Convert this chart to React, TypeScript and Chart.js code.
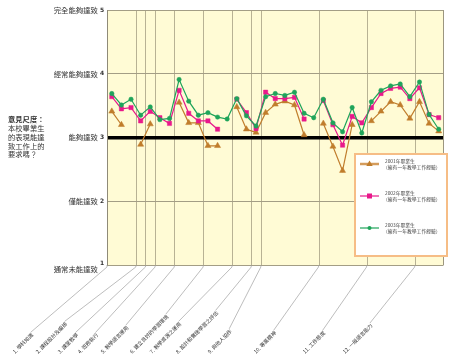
import React, { useEffect, useRef } from "react";
import { Chart, registerables } from "chart.js";
Chart.register(...registerables);

// item codes (group.item)
const itemCodes = [
  "1.1", "1.2", "1.3", "2.1", "3.1", "4.1", "4.2", "5.1", "5.2", "5.3",
  "6.1", "6.2", "6.3", "7.1", "7.2", "8.1", "9.1", "9.2", "9.3", "9.4",
  "9.5", "9.6", "10.1", "10.2", "10.3", "10.4", "10.5", "11.1", "11.2", "11.3",
  "11.4", "11.5", "12.1", "12.2", "12.3",
];

const groupLabels = [
  "1. 學科知識",
  "2. 課程設計及編排",
  "3. 課堂教學",
  "4. 班務執行",
  "5. 教學語言運用",
  "6. 建立良好的學習環境",
  "7. 教學資源之運用",
  "8. 設計和實施學習之評估",
  "9. 與他人協作",
  "10. 專業精神",
  "11. 工作態度",
  "12. 一般語言能力",
];

const yTickValues = [1, 2, 3, 4, 5];
const yTickTexts = ["通常未能達致", "僅能達致", "能夠達致", "經常能夠達致", "完全能夠達致"];

const axisTitleLines = ["意見尺度：", "本校畢業生", "的表現能達", "致工作上的", "要求嗎？"];

const seriesNames = ["2001年畢業生", "2002年畢業生", "2003年畢業生"];
const seriesNote = "（擁有一年教學工作經驗）";

const grad2001 = [
  3.41, 3.2, null, 2.89, 3.21, null, null, 3.55, 3.23, 3.23,
  2.87, 2.87, null, 3.48, 3.13, 3.08, 3.39, 3.52, 3.57, 3.51,
  3.04, null, 3.22, 2.86, 2.48, 3.2, null, 3.26, 3.41, 3.56,
  3.51, 3.3, 3.56, 3.22, 3.1,
];
const grad2002 = [
  3.64, 3.45, 3.47, 3.26, 3.41, 3.31, 3.22, 3.74, 3.38, 3.26,
  3.26, 3.13, null, 3.6, 3.39, 3.14, 3.71, 3.61, 3.61, 3.63,
  3.29, null, 3.58, 3.2, 2.88, 3.33, 3.23, 3.47, 3.69, 3.77,
  3.79, 3.61, 3.78, 3.36, 3.31,
];
const grad2003 = [
  3.69, 3.51, 3.6, 3.35, 3.48, 3.28, 3.3, 3.91, 3.57, 3.35,
  3.39, 3.32, 3.29, 3.61, 3.34, 3.18, 3.64, 3.69, 3.66, 3.71,
  3.38, 3.31, 3.6, 3.23, 3.09, 3.47, 3.07, 3.56, 3.74, 3.81,
  3.84, 3.64, 3.87, 3.36, 3.13,
];

const COLORS = ["#c07d2c", "#e8198b", "#1fa45a"];
const STYLES = ["triangle", "rect", "circle"];
const RADII = [3.5, 3, 2.2];
const CJK = '"Noto Sans CJK TC", "Noto Sans", sans-serif';

// layout: where each rotated group label begins (left end of its baseline)
const LABEL_START_X = [15, 38, 60, 80, 103, 132, 152, 178, 210, 256, 305, 345];

const groupOf = (code: string) => code.split(".")[0];

const customPlugin = {
  id: "custom",
  beforeDraw(chart: any) {
    const { ctx, chartArea: a, scales } = chart;
    const xs = scales.x;
    ctx.save();
    ctx.fillStyle = "#fffbd5";
    ctx.fillRect(a.left, a.top, a.right - a.left, a.bottom - a.top);
    // group boundary lines
    ctx.strokeStyle = "#b8b294";
    ctx.lineWidth = 1;
    for (let i = 1; i < itemCodes.length; i++) {
      if (groupOf(itemCodes[i]) !== groupOf(itemCodes[i - 1])) {
        const px = Math.round((xs.getPixelForValue(i - 1) + xs.getPixelForValue(i)) / 2) + 0.5;
        ctx.beginPath();
        ctx.moveTo(px, a.top);
        ctx.lineTo(px, a.bottom);
        ctx.stroke();
      }
    }
    ctx.restore();
  },
  afterDraw(chart: any) {
    const { ctx, chartArea: a, scales } = chart;
    const xs = scales.x;
    const ys = scales.y;
    ctx.save();
    // right frame
    ctx.strokeStyle = "#9c9680";
    ctx.lineWidth = 1;
    ctx.beginPath();
    ctx.moveTo(Math.round(a.right) - 0.5, a.top);
    ctx.lineTo(Math.round(a.right) - 0.5, a.bottom);
    ctx.stroke();

    // y tick labels
    ctx.fillStyle = "#333";
    ctx.textBaseline = "middle";
    yTickValues.forEach((v, i) => {
      const py = ys.getPixelForValue(v);
      ctx.font = `7.4px ${CJK}`;
      ctx.textAlign = "right";
      ctx.fillText(yTickTexts[i], a.left - 9, py + (v === 1 ? 4 : 0));
      ctx.font = `bold 6px "DejaVu Sans", sans-serif`;
      ctx.textAlign = "center";
      ctx.fillText(String(v), a.left - 5, py - (v === 1 ? 2 : 0));
    });

    // left axis title
    const p3 = ys.getPixelForValue(3);
    ctx.textAlign = "left";
    axisTitleLines.forEach((t, i) => {
      ctx.font = `${i === 0 ? "bold " : ""}7.3px ${CJK}`;
      ctx.fillText(t, 8, p3 - 18 + i * 8.8);
    });

    // x group leader lines and labels
    const bounds: number[] = [a.left];
    for (let i = 1; i < itemCodes.length; i++) {
      if (groupOf(itemCodes[i]) !== groupOf(itemCodes[i - 1])) {
        bounds.push((xs.getPixelForValue(i - 1) + xs.getPixelForValue(i)) / 2);
      }
    }
    const ang = Math.PI / 4;
    const baseY = 354;
    ctx.font = `5.2px ${CJK}`;
    groupLabels.forEach((lab, k) => {
      const b = bounds[k];
      const sx = LABEL_START_X[k];
      const w = ctx.measureText(lab).width;
      const ex = sx + w * Math.cos(ang);
      const ey = baseY - w * Math.sin(ang);
      // leader line
      ctx.strokeStyle = "#a0a0a0";
      ctx.lineWidth = 0.7;
      ctx.beginPath();
      ctx.moveTo(b, a.bottom);
      ctx.lineTo(b, a.bottom + 2);
      ctx.lineTo(ex - 3, ey - 3);
      ctx.stroke();
      ctx.save();
      ctx.translate(sx, baseY);
      ctx.rotate(-ang);
      ctx.fillStyle = "#333";
      ctx.textAlign = "left";
      ctx.textBaseline = "alphabetic";
      ctx.fillText(lab, 0, 0);
      ctx.restore();
    });

    // legend box
    const lx = 355, ly = 154, lw = 92, lh = 102;
    ctx.fillStyle = "#ffffff";
    ctx.fillRect(lx, ly, lw, lh);
    ctx.strokeStyle = "#f6bd86";
    ctx.lineWidth = 2;
    ctx.strokeRect(lx, ly, lw, lh);
    const entryY = [ly + 10, ly + 42, ly + 74];
    chart.data.datasets.forEach((ds: any, i: number) => {
      const cy = entryY[i];
      ctx.strokeStyle = i === 0 ? "#d49c5c" : ds.borderColor;
      ctx.lineWidth = i === 0 ? 2.5 : 1.2;
      ctx.beginPath();
      ctx.moveTo(lx + 5, cy);
      ctx.lineTo(lx + 24, cy);
      ctx.stroke();
      ctx.fillStyle = ds.borderColor;
      const mx = lx + 14.5;
      if (STYLES[i] === "triangle") {
        ctx.beginPath();
        ctx.moveTo(mx, cy - 3.5);
        ctx.lineTo(mx + 3.2, cy + 2);
        ctx.lineTo(mx - 3.2, cy + 2);
        ctx.closePath();
        ctx.fill();
      } else if (STYLES[i] === "rect") {
        ctx.fillRect(mx - 2.5, cy - 2.5, 5, 5);
      } else {
        ctx.beginPath();
        ctx.arc(mx, cy, 2, 0, Math.PI * 2);
        ctx.fill();
      }
      ctx.fillStyle = "#444";
      ctx.textAlign = "left";
      ctx.textBaseline = "middle";
      ctx.font = `4.8px ${CJK}`;
      ctx.fillText(seriesNames[i], lx + 30, cy - 3);
      ctx.fillText(seriesNote, lx + 28, cy + 3.5);
    });
    ctx.restore();
  },
};

export default function App() {
  const ref = useRef<HTMLCanvasElement>(null);
  useEffect(() => {
    document.body.style.margin = "0";
    const series = [grad2001, grad2002, grad2003];
    const chart = new Chart(ref.current as HTMLCanvasElement, {
      type: "line",
      data: {
        labels: itemCodes,
        datasets: series.map((d, i) => ({
          label: seriesNames[i],
          data: d,
          borderColor: COLORS[i],
          backgroundColor: COLORS[i],
          pointBackgroundColor: COLORS[i],
          pointBorderColor: COLORS[i],
          pointStyle: STYLES[i] as any,
          pointRadius: RADII[i],
          pointBorderWidth: 0.5,
          borderWidth: 1.2,
          tension: 0,
          spanGaps: false,
          order: 2 - i,
        })),
      },
      options: {
        animation: false,
        responsive: false,
        devicePixelRatio: 1,
        layout: { padding: { left: 107, right: 6.5, top: 10, bottom: 91 } },
        plugins: { legend: { display: false }, tooltip: { enabled: false } },
        scales: {
          x: {
            type: "category",
            offset: true,
            ticks: { display: false },
            grid: { display: false, drawTicks: false },
            border: { display: false },
            afterFit: (s: any) => {
              s.height = 0;
            },
          },
          y: {
            min: 1,
            max: 5,
            ticks: { display: false, stepSize: 1 },
            grid: {
              drawTicks: false,
              color: (c: any) => (c.tick && c.tick.value === 3 ? "#000000" : "#a39d85"),
              lineWidth: (c: any) => (c.tick && c.tick.value === 3 ? 3.5 : 1),
            },
            border: { display: true, color: "#8f8a78", width: 1 },
            afterFit: (s: any) => {
              s.width = 0;
            },
          },
        },
      },
      plugins: [customPlugin],
    } as any);
    return () => chart.destroy();
  }, []);
  return (
    <div style={{ position: "absolute", left: 0, top: 0, width: 450, height: 356, background: "#fff" }}>
      <canvas ref={ref} width={450} height={356} style={{ display: "block", width: 450, height: 356 }} />
    </div>
  );
}
